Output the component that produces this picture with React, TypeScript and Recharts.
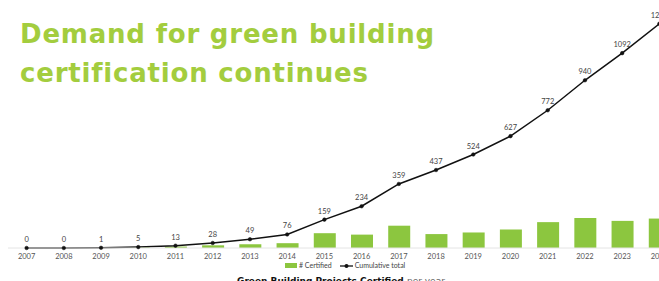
import { Bar, ComposedChart, LabelList, Legend, Line, XAxis, YAxis } from "recharts";

const years = ["2007", "2008", "2009", "2010", "2011", "2012", "2013", "2014", "2015", "2016", "2017", "2018", "2019", "2020", "2021", "2022", "2023", "2024"];
const certified = [0, 0, 1, 4, 8, 15, 21, 27, 83, 75, 125, 78, 87, 103, 145, 168, 152, 165];
const cumulative = [0, 0, 1, 5, 13, 28, 49, 76, 159, 234, 359, 437, 524, 627, 772, 940, 1092, 1257];

const GREEN = "#8cc63f";
const TITLE_GREEN = "#a3cd3e";

const data = years.map((year, i) => ({
  year,
  certified: certified[i],
  cumulative: cumulative[i],
}));

function LegendContent() {
  return (
    <div style={{ display: "flex", alignItems: "center", fontFamily: "Lato, sans-serif", fontSize: 7, lineHeight: "7px", color: "#444" }}>
      <span style={{ display: "inline-block", width: 12, height: 5, background: GREEN, marginRight: 2 }} />
      <span style={{ marginRight: 8 }}># Certified</span>
      <svg width={13} height={6} style={{ marginRight: 2 }}>
        <line x1={0} y1={3} x2={13} y2={3} stroke="#111" strokeWidth={1.3} />
        <circle cx={6.5} cy={3} r={2} fill="#111" />
      </svg>
      <span>Cumulative total</span>
    </div>
  );
}

export default function App() {
  return (
    <div style={{ position: "absolute", top: 0, left: 0, width: 659, height: 281, overflow: "hidden", background: "#fff" }}>
      <div
        style={{
          position: "absolute",
          left: 20,
          top: 15,
          fontFamily: "'DejaVu Sans', sans-serif",
          fontWeight: 700,
          fontSize: 26,
          letterSpacing: 0.8,
          lineHeight: "39px",
          color: TITLE_GREEN,
          whiteSpace: "nowrap",
        }}
      >
        Demand for green building
        <br />
        certification continues
      </div>
      <div style={{ position: "absolute", left: 0, top: 0 }}>
        <ComposedChart
          width={690}
          height={281}
          data={data}
          margin={{ top: 0, right: 12, bottom: 0, left: 8 }}
          barCategoryGap={0}
        >
          <XAxis
            dataKey="year"
            height={33}
            tickLine={false}
            axisLine={{ stroke: "#e4e4e4" }}
            interval={0}
            tick={{ fontSize: 7.5, fill: "#555", fontFamily: "Lato, sans-serif" }}
            tickMargin={0}
          />
          <YAxis hide domain={[0, 1390]} />
          <Bar dataKey="certified" fill={GREEN} barSize={22} isAnimationActive={false} />
          <Line
            type="linear"
            dataKey="cumulative"
            stroke="#111"
            strokeWidth={1.5}
            dot={{ r: 1.8, fill: "#111", stroke: "#111", strokeWidth: 0.5 }}
            isAnimationActive={false}
          >
            <LabelList
              dataKey="cumulative"
              position="top"
              offset={6}
              style={{ fontSize: 7.5, fill: "#444", fontFamily: "Lato, sans-serif" }}
            />
          </Line>
          <Legend
            layout="horizontal"
            verticalAlign="middle"
            align="center"
            content={<LegendContent />}
            wrapperStyle={{ top: 262, left: 285, width: 150, height: 8 }}
          />
        </ComposedChart>
      </div>
      <div
        style={{
          position: "absolute",
          left: 237,
          top: 276,
          fontFamily: "'DejaVu Sans', sans-serif",
          fontSize: 9,
          fontWeight: 700,
          color: "#111",
          whiteSpace: "nowrap",
        }}
      >
        Green Building Projects Certified <span style={{ fontWeight: 400, color: "#666" }}>per year</span>
      </div>
    </div>
  );
}
